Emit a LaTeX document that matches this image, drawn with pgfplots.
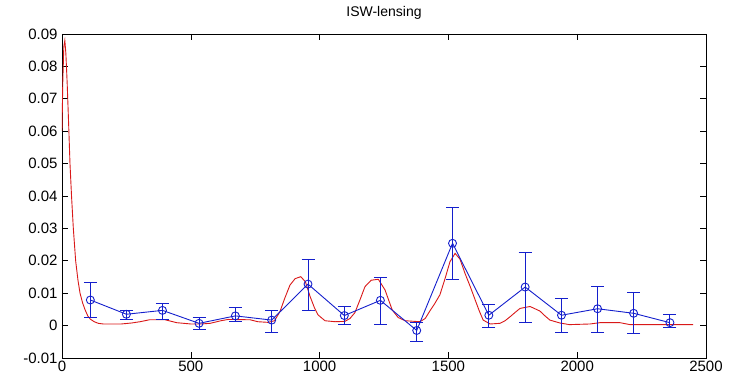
\documentclass[border=0pt]{standalone}
\usepackage{fontspec}
\setmainfont{Liberation Sans}
\usepackage{pgfplots}
\pgfplotsset{compat=1.18}
\definecolor{mblue}{rgb}{0.08,0.12,0.8}
\definecolor{mred}{rgb}{0.85,0.1,0.1}
\begin{document}
\begin{tikzpicture}[x=1pt,y=1pt]
\path[use as bounding box] (0,0) rectangle (731,375);
\begin{axis}[
  at={(62pt,17pt)}, anchor=south west,
  scale only axis, width=644pt, height=324pt,
  xmin=0, xmax=2500, ymin=-0.01, ymax=0.09,
  xtick={0,500,1000,1500,2000,2500},
  ytick={-0.01,0,0.01,0.02,0.03,0.04,0.05,0.06,0.07,0.08,0.09},
  scaled y ticks=false, scaled x ticks=false,
  yticklabel style={/pgf/number format/fixed, /pgf/number format/precision=2, xshift=-1pt},
  xticklabel style={/pgf/number format/1000 sep={}, yshift=1pt},
  /pgf/number format/assume math mode=true,
  tick align=inside, major tick length=6pt,
  tick style={black, line width=0.6pt},
  axis line style={black, line width=0.9pt},
  ticklabel style={font=\fontsize{15}{17}\selectfont},
  title={ISW-lensing},
  title style={font=\fontsize{14}{16}\selectfont, at={(0.5,1)}, anchor=base, yshift=11pt},
]
\addplot[mred, line width=0.9pt] coordinates {
(0,0.060) (3,0.075) (7,0.086) (11,0.088) (15,0.084) (20,0.075) (25,0.064)
(31,0.050) (37,0.040) (44,0.030) (53,0.020) (62,0.014) (70,0.010) (80,0.007)
(89,0.005) (100,0.003) (110,0.002) (125,0.0012) (141,0.0007) (160,0.0005)
(230,0.0005) (270,0.0008) (303,0.0012) (340,0.0018) (400,0.0018) (445,0.0009)
(500,0.0005) (540,0.0005) (575,0.0007) (617,0.0015) (645,0.0019) (730,0.0018)
(760,0.0012) (800,0.0010) (825,0.0015) (846,0.0043) (865,0.0085) (885,0.0125)
(905,0.0145) (927,0.0151) (945,0.0135) (963,0.009) (980,0.0055) (994,0.0033)
(1021,0.0015) (1060,0.0012) (1098,0.0013) (1118,0.0022) (1137,0.004) (1157,0.008)
(1176,0.012) (1200,0.0140) (1228,0.0143) (1254,0.011) (1282,0.0048) (1305,0.0025)
(1332,0.0015) (1390,0.0012) (1410,0.0022) (1428,0.0045) (1447,0.0068) (1467,0.0095)
(1487,0.0145) (1506,0.0197) (1526,0.0223) (1545,0.0205) (1565,0.016) (1585,0.012)
(1604,0.0079) (1620,0.0045) (1635,0.0017) (1662,0.0005) (1700,0.0007) (1720,0.0015)
(1739,0.0027) (1758,0.0040) (1778,0.0053) (1817,0.0059) (1855,0.0045) (1875,0.003)
(1894,0.0017) (1933,0.0008) (1970,0.0003) (2050,0.0005) (2088,0.0009) (2166,0.0009)
(2205,0.0003) (2450,0.0003)
};
\addplot[mblue, line width=0.9pt, mark=o, mark size=4pt,
  error bars/.cd, y dir=both, y explicit,
  error bar style={mblue, line width=0.9pt},
  error mark options={mblue, rotate=90, mark size=6.5pt, line width=0.9pt}]
table[x=x, y=y, y error plus=ep, y error minus=em] {
x y ep em
110 0.0079 0.0053 0.0055
250 0.0035 0.0012 0.0015
390 0.0047 0.0022 0.0027
532 0.0007 0.0017 0.0018
673 0.0030 0.0026 0.0018
814 0.0017 0.0030 0.0038
955 0.0128 0.0075 0.0080
1096 0.0031 0.0029 0.0028
1236 0.0078 0.0071 0.0075
1377 -0.0015 0.0024 0.0033
1516 0.0254 0.0111 0.0111
1657 0.0032 0.0032 0.0037
1798 0.0119 0.0108 0.0108
1939 0.0032 0.0051 0.0053
2079 0.0052 0.0070 0.0073
2219 0.0038 0.0063 0.0063
2360 0.0009 0.0025 0.0015
};
\end{axis}
\end{tikzpicture}
\end{document}
